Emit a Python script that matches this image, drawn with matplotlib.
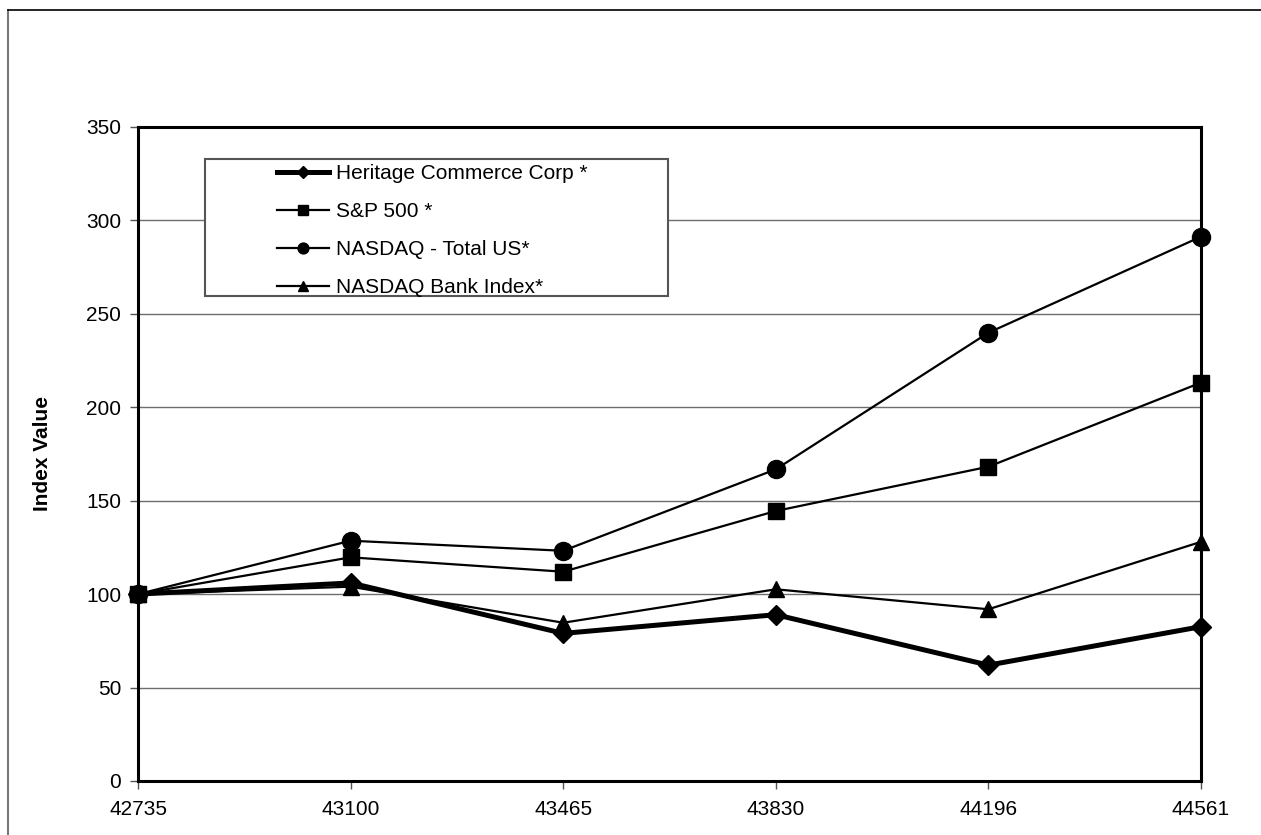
import matplotlib
matplotlib.use('Agg')
import matplotlib.pyplot as plt
from matplotlib.patches import Rectangle
from matplotlib.lines import Line2D

plt.rcParams['font.family'] = ['Liberation Sans', 'DejaVu Sans']

# x tick labels (Excel serial dates, shown as-is)
dates = ['42735', '43100', '43465', '43830', '44196', '44561']

heritage = [100, 106, 79, 89, 62, 82.6]
sp500 = [100, 119.7, 112, 144.5, 168.2, 213.2]
nasdaq_total = [100, 128.6, 123.2, 166.8, 239.9, 291.3]
nasdaq_bank = [100, 104, 84.7, 102.6, 91.9, 128]

labels = ['Heritage Commerce Corp *', 'S&P 500 *', 'NASDAQ - Total US*', 'NASDAQ Bank Index*']

fig = plt.figure(figsize=(12.61, 8.35), dpi=100)
ax = fig.add_axes([138/1261, 54/835, 1063/1261, 654/835])

x = list(range(len(dates)))

l1, = ax.plot(x, heritage, color='black', lw=3.6, marker='D', ms=10.5, clip_on=False, zorder=5)
l2, = ax.plot(x, sp500, color='black', lw=1.6, marker='s', ms=12, clip_on=False, zorder=4)
l3, = ax.plot(x, nasdaq_total, color='black', lw=1.6, marker='o', ms=13, clip_on=False, zorder=4)
l4, = ax.plot(x, nasdaq_bank, color='black', lw=1.6, marker='^', ms=11, clip_on=False, zorder=4)

ax.set_xlim(0, 5)
ax.set_ylim(0, 350)
ax.set_yticks(range(0, 351, 50))
ax.set_xticks(x)
ax.set_xticklabels(dates)
ax.yaxis.grid(True, color='#6e6e6e', lw=1.0)
ax.set_axisbelow(True)

for s in ax.spines.values():
    s.set_linewidth(2.2)
    s.set_color('black')

ax.tick_params(axis='y', direction='out', length=6, width=1, labelsize=15, pad=6, color='#555555')
ax.tick_params(axis='x', direction='out', length=6, width=1, labelsize=15, pad=8, color='#555555')

ax.set_ylabel('Index Value', fontsize=15, fontweight='bold')
ax.yaxis.set_label_coords(-0.081, 0.5)

# legend box
box = Rectangle((0.063, 0.7416), 0.4356, 0.2094, transform=ax.transAxes,
                facecolor='white', edgecolor='#555555', lw=1.5, zorder=6)
ax.add_patch(box)
leg = ax.legend([l1, l2, l3, l4], labels, loc='upper left',
                bbox_to_anchor=(0.131, 0.943), frameon=False, fontsize=15,
                handlelength=2.5, handletextpad=0.3, labelspacing=0.91,
                borderpad=0, borderaxespad=0, markerscale=0.6)
leg.set_zorder(7)

# outer frame of the picture
fig.add_artist(Line2D([8/1261, 8/1261], [-0.1, 825/835], color='#777777', lw=1.5))
fig.add_artist(Line2D([8/1261, 1.1], [825/835, 825/835], color='black', lw=1.2))

fig.savefig('out.png', dpi=100)
